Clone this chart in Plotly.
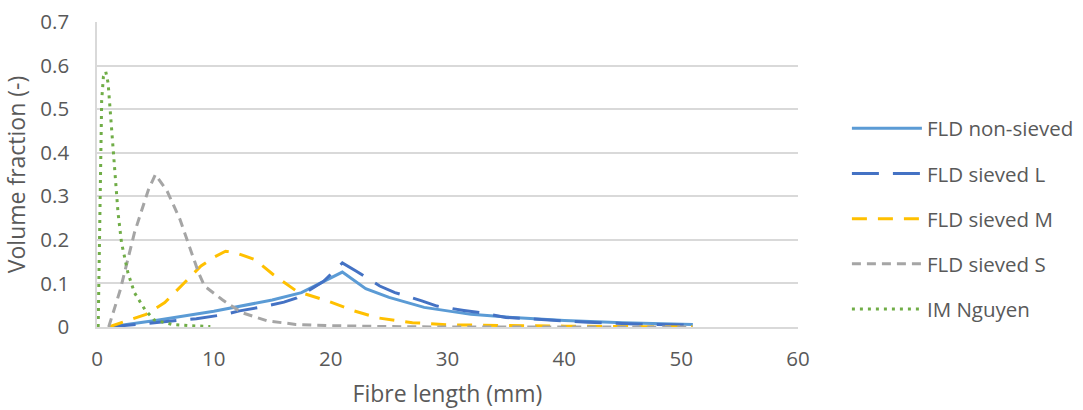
import plotly.graph_objects as go

# Fibre length distributions (fibre length in mm, volume fraction)
x_non_sieved = [1, 5, 10, 15, 17.5, 21, 23, 25, 28, 32, 36, 40, 45, 51]
y_non_sieved = [0.0, 0.015, 0.036, 0.062, 0.079, 0.126, 0.088, 0.068, 0.045, 0.029, 0.021, 0.015, 0.010, 0.006]

x_sieved_l = [1, 5, 8.5, 11, 12.2, 14.5, 16, 17.1, 17.8, 19.4, 21, 22.2, 24.2, 25.5, 27.8, 29.1, 31.4, 33, 35, 37, 39, 42, 46, 51]
y_sieved_l = [0.0, 0.010, 0.019, 0.029, 0.037, 0.048, 0.057, 0.067, 0.079, 0.105, 0.147, 0.128, 0.094, 0.079, 0.060, 0.048, 0.038, 0.032, 0.022, 0.019, 0.015, 0.011, 0.007, 0.004]

x_sieved_m = [1, 4.2, 5.8, 7.5, 8.9, 10, 11, 11.8, 13.5, 15.1, 17.1, 19.7, 22, 24, 27, 30, 35, 40, 45, 51]
y_sieved_m = [0.0, 0.029, 0.056, 0.102, 0.140, 0.160, 0.174, 0.171, 0.155, 0.120, 0.082, 0.060, 0.037, 0.021, 0.010, 0.005, 0.003, 0.002, 0.001, 0.0]

x_sieved_s = [1, 2, 3.2, 4.4, 5, 6, 7.1, 8, 8.7, 9.2, 10.7, 12.4, 14.6, 17, 20, 25, 30, 40, 51]
y_sieved_s = [0.0, 0.086, 0.216, 0.315, 0.350, 0.312, 0.247, 0.175, 0.124, 0.094, 0.063, 0.033, 0.014, 0.006, 0.003, 0.001, 0.0, 0.0, 0.0]

x_nguyen = [0.1, 0.25, 0.4, 0.55, 0.75, 0.95, 1.2, 1.45, 1.65, 1.8, 2.1, 2.65, 3.2, 4.1, 4.9, 6.4, 8, 9.7]
y_nguyen = [0.0, 0.30, 0.52, 0.575, 0.586, 0.56, 0.47, 0.395, 0.33, 0.262, 0.193, 0.124, 0.079, 0.040, 0.016, 0.006, 0.003, 0.001]

x_ticks = [0, 10, 20, 30, 40, 50, 60]
y_ticks = [0, 0.1, 0.2, 0.3, 0.4, 0.5, 0.6, 0.7]

FONT = "Open Sans"
TEXT = "#595959"
GRID = "#d9d9d9"

series = [
    ("FLD non-sieved", x_non_sieved, y_non_sieved, "#5B9BD5", "solid"),
    ("FLD sieved L", x_sieved_l, y_sieved_l, "#4472C4", "27px,14px"),
    ("FLD sieved M", x_sieved_m, y_sieved_m, "#FFC000", "15px,11px"),
    ("FLD sieved S", x_sieved_s, y_sieved_s, "#A5A5A5", "9px,6px"),
    ("IM Nguyen", x_nguyen, y_nguyen, "#70AD47", "3px,5px"),
]

fig = go.Figure()
for i, (name, xs, ys, color, dash) in enumerate(series):
    fig.add_trace(go.Scatter(
        x=xs, y=ys, name=name, mode="lines",
        line=dict(color=color, width=3, dash=dash),
        legendgroup=f"g{i}",
    ))

fig.update_layout(
    width=1083, height=410,
    margin=dict(l=97, r=285, t=22, b=83, autoexpand=False),
    paper_bgcolor="white", plot_bgcolor="white",
    font=dict(family=FONT, color=TEXT, size=20),
    showlegend=True,
    legend=dict(
        xref="container", x=0.782, xanchor="left",
        y=0.354, yanchor="middle",
        font=dict(family=FONT, size=20.5, color=TEXT),
        itemwidth=70, tracegroupgap=15.5,
        bgcolor="rgba(0,0,0,0)",
    ),
    xaxis=dict(
        range=[0, 60], tickvals=x_ticks, ticktext=[str(v) for v in x_ticks],
        showgrid=False, zeroline=False, automargin=False,
        showline=True, linecolor=GRID, linewidth=1.5,
        ticks="", ticklabelstandoff=13,
        tickfont=dict(family=FONT, size=20.5, color=TEXT),
        title=dict(text="Fibre length (mm)", font=dict(family=FONT, size=23, color=TEXT), standoff=15),
    ),
    yaxis=dict(
        range=[0, 0.7], tickvals=y_ticks, ticktext=["0"] + [f"{v:.1f}" for v in y_ticks[1:]],
        showgrid=True, gridcolor=GRID, gridwidth=1.5, zeroline=False, automargin=False,
        showline=True, linecolor=GRID, linewidth=1.5,
        ticks="", ticklabelstandoff=22,
        tickfont=dict(family=FONT, size=20.5, color=TEXT),
        title=dict(text="Volume fraction (-)", font=dict(family=FONT, size=23, color=TEXT), standoff=8),
    ),
)

fig.write_html("out.html")
